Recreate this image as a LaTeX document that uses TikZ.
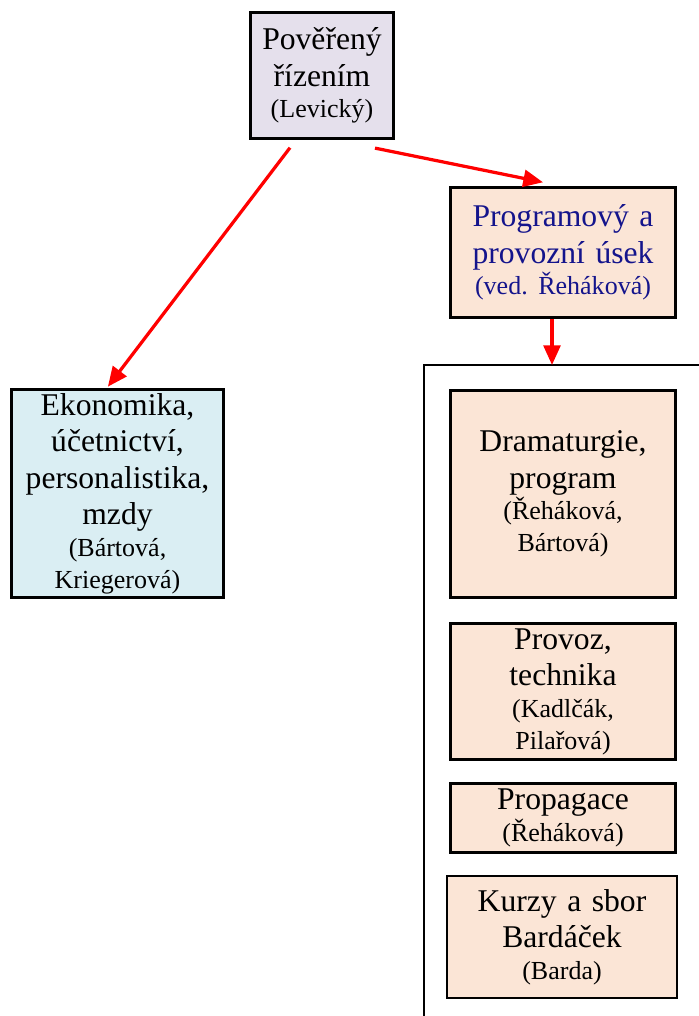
\documentclass[tikz,border=0pt]{standalone}
\usepackage{fontspec}
\setmainfont{Liberation Serif}
\usetikzlibrary{arrows.meta, positioning, calc}
\definecolor{lavender1}{RGB}{229, 224, 236}
\definecolor{peach1}{RGB}{251, 229, 214}
\definecolor{paleblue}{RGB}{218, 238, 243}
\definecolor{navy1}{RGB}{20, 20, 140}
\definecolor{arrowred}{RGB}{255, 0, 0}
\newcommand{\bigtxt}{\fontsize{22.5}{26}\selectfont\frenchspacing}
\newcommand{\smalltxt}{\fontsize{18.5}{22.5}\selectfont}
\tikzset{
  unitbox/.style={draw=black, line width=2.3pt, align=center, inner sep=0pt, font=\bigtxt},
  redarrow/.style={draw=arrowred, line width=2.3pt, -{Triangle[length=14pt, width=12pt]}}
}

\begin{document}
\begin{tikzpicture}
  \useasboundingbox (0,0) rectangle (17.475,-25.4);

  % Head
  \node[unitbox, fill=lavender1, minimum width=3.575cm, minimum height=3.15cm, text width=3.5cm] (ruling) at (8.05, -1.8875) {
    Pověřený\\ řízením\\ {\smalltxt (Levický)\par}
  };

  % Programme section
  \node[unitbox, fill=peach1, text=navy1, minimum width=5.625cm, minimum height=3.25cm, text width=5.5cm] (progsec) at (14.075, -6.3125) {
    Programový a\\ provozní úsek\\ {\smalltxt (ved. Řeháková)\par}
  };

  % Economy
  \node[unitbox, fill=paleblue, minimum width=5.3cm, minimum height=5.2cm, text width=5.2cm] (econ) at (2.9375, -12.3375) {
    Ekonomika,\\ účetnictví,\\ personalistika,\\ mzdy\\ {\smalltxt (Bártová,\\ Kriegerová)\par}
  };

  % Open frame round the departments
  \coordinate (fbl) at (10.6, -25.4);
  \coordinate (ftl) at (10.6, -9.125);
  \coordinate (ftr) at (17.475, -9.125);
  \draw[line width=2.1pt] (fbl) -- (ftl) -- (ftr);

  % Departments
  \node[unitbox, fill=peach1, minimum width=5.625cm, minimum height=5.175cm, text width=5.5cm] (drama) at (14.075, -12.35) {
    Dramaturgie,\\ program\\ {\smalltxt (Řeháková,\\ Bártová)\par}
  };
  \node[unitbox, fill=peach1, minimum width=5.625cm, minimum height=3.4cm, text width=5.5cm] (operations) at (14.075, -17.2875) {
    Provoz,\\ technika\\ {\smalltxt (Kadlčák,\\ Pilařová)\par}
  };
  \node[unitbox, fill=peach1, minimum width=5.625cm, minimum height=1.725cm, text width=5.5cm] (promo) at (14.075, -20.45) {
    Propagace\\ {\smalltxt (Řeháková)\par}
  };
  \node[unitbox, fill=peach1, line width=1.5pt, minimum width=5.75cm, minimum height=3.05cm, text width=5.6cm] (courses) at (14.05, -23.425) {
    Kurzy a sbor\\ Bardáček\\ {\smalltxt (Barda)\par}
  };

  % Arrows
  \draw[redarrow] ([xshift=-0.8cm, yshift=-0.19cm]ruling.south) -- ([xshift=-0.24cm, yshift=0.03cm]econ.north);
  \draw[redarrow] ([xshift=1.325cm, yshift=-0.2cm]ruling.south) -- ([xshift=-0.5cm, yshift=0.09cm]progsec.north);
  \coordinate (arrtop) at ([xshift=-0.275cm]progsec.south);
  \draw[redarrow] (arrtop) -- (arrtop |- ftl);
\end{tikzpicture}
\end{document}
